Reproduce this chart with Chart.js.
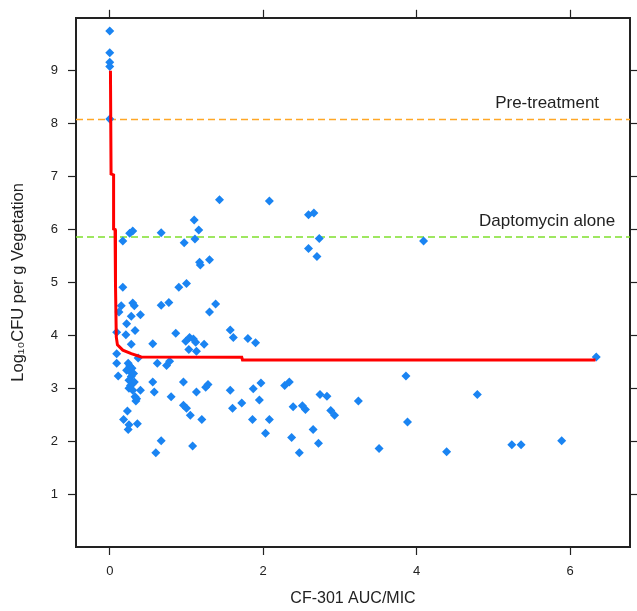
<!DOCTYPE html>
<html>
<head>
<meta charset="utf-8">
<script src="https://cdn.jsdelivr.net/npm/chart.js@4.4.1/dist/chart.umd.min.js"></script>
<style>
  body { margin: 0; background: #fff; }
</style>
</head>
<body>
<canvas id="cfuChart" width="637" height="611"></canvas>
<script>
// observed vegetation counts (x = CF-301 AUC/MIC, y = log10 CFU)
const aucMic = [
    0.0, 0.0, 0.0, 0.0, 0.0,
    1.43, 2.08, 2.59, 2.66, 2.73, 2.59, 2.70, 4.09,
    0.17, 0.26, 0.30, 0.67, 0.97, 1.10, 1.16, 1.11,
    1.17, 1.18, 1.30,
    0.17, 0.90, 1.00,
    0.15, 0.12, 0.30, 0.32, 0.28, 0.40, 0.22, 0.33, 0.09, 0.21,
    0.67, 0.77, 1.30, 1.38, 1.57, 1.61, 1.80, 1.90,
    0.86, 0.56, 0.28,
    0.99, 1.04, 1.09, 1.12, 1.03, 1.13, 1.23,
    0.09, 0.09, 0.11, 0.37, 0.24, 0.26, 0.22, 0.27, 0.28, 0.25, 0.30, 0.32, 0.25, 0.30, 0.33, 0.35, 0.34, 0.40, 0.29, 0.31, 0.27,
    0.62, 0.74, 0.78, 0.56, 0.58, 0.80, 0.96, 1.13, 0.96, 1.00, 1.05, 1.08, 1.20, 1.25, 1.28,
    0.23, 0.18, 0.25, 0.24, 0.36, 0.67, 0.60,
    1.57, 1.60, 1.72, 1.87, 1.97, 1.95, 1.86, 2.08, 2.03, 2.28, 2.34, 2.39, 2.37, 2.47, 2.51, 2.55,
    2.65, 2.72, 2.74, 2.83, 2.88, 2.93, 3.24, 3.86, 3.88, 3.51, 4.39, 4.79, 5.24, 5.36, 5.89, 6.34
];
const logCfu = [
    9.75, 9.34, 9.16, 9.08, 8.09,
    6.56, 6.54, 6.28, 6.31, 5.83, 5.64, 5.49, 5.78,
    5.78, 5.93, 5.97, 5.94, 5.75, 6.18, 5.99, 5.82,
    5.38, 5.33, 5.43,
    4.91, 4.91, 4.98,
    4.56, 4.44, 4.61, 4.56, 4.36, 4.39, 4.22, 4.09, 4.06, 4.01,
    4.57, 4.62, 4.44, 4.59, 4.10, 3.96, 3.94, 3.86,
    4.04, 3.84, 3.83,
    3.89, 3.96, 3.93, 3.87, 3.73, 3.70, 3.83,
    3.65, 3.47, 3.23, 3.57, 3.47, 3.42, 3.34, 3.30, 3.22, 3.15, 3.09, 3.12, 3.00, 2.96, 2.84, 2.80, 2.76, 2.96, 3.38, 3.28, 3.05,
    3.47, 3.43, 3.51, 3.12, 2.93, 2.84, 3.12, 2.93, 2.68, 2.62, 2.49, 1.91, 2.41, 3.02, 3.07,
    2.57, 2.41, 2.31, 2.22, 2.33, 2.01, 1.78,
    2.96, 2.62, 2.72, 2.99, 3.10, 2.78, 2.41, 2.41, 2.15, 3.05, 3.12, 2.65, 2.07, 1.78, 2.67, 2.60,
    2.22, 1.96, 2.88, 2.85, 2.58, 2.49, 2.76, 3.23, 2.36, 1.86, 1.80, 2.88, 1.93, 1.93, 2.01, 3.59
];

// fitted exposure-response curve
const fitAuc = [0.009, 0.017, 0.05, 0.05, 0.069, 0.069, 0.08, 0.085, 0.1, 0.17, 0.28, 0.41, 1.72, 1.73, 6.33];
const fitCfu = [9.0, 7.05, 7.03, 6.01, 6.0, 5.0, 4.98, 3.97, 3.82, 3.72, 3.655, 3.59, 3.585, 3.535, 3.535];

// reference levels
const refLevels = [8.08, 5.86];
const refLabels = ['Pre-treatment', 'Daptomycin alone'];
const refColors = ['#ffa726', '#7fe02c'];

const xTicks = [0, 2, 4, 6];
const yTicks = [1, 2, 3, 4, 5, 6, 7, 8, 9];

const refLinesPlugin = {
    id: 'refLines',
    beforeDatasetsDraw(chart) {
        const c = chart.ctx;
        const area = chart.chartArea;
        const y = chart.scales.y;
        const x = chart.scales.x;
        c.save();
        for (let i = 0; i < refLevels.length; i++) {
            const py = y.getPixelForValue(refLevels[i]);
            c.strokeStyle = refColors[i];
            c.lineWidth = 1.5;
            c.setLineDash([7, 4]);
            c.beginPath();
            c.moveTo(area.left, py);
            c.lineTo(area.right, py);
            c.stroke();
            c.setLineDash([]);
            c.fillStyle = '#222';
            c.font = '17px "Liberation Sans", Arial, sans-serif';
            c.textAlign = 'center';
            c.textBaseline = 'alphabetic';
            c.fillText(refLabels[i], x.getPixelForValue(5.7), py - 11);
        }
        c.restore();
    }
};

function frameTicks(list) {
    return function (scale) {
        scale.ticks = list.map(v => ({value: v}));
    };
}

const axisFont = {family: '"Liberation Sans", Arial, sans-serif', size: 13};
const frame = {display: true, color: '#222', width: 2};
const tickMarks = {drawOnChartArea: false, drawTicks: true, tickLength: 8, tickColor: '#222', tickWidth: 1.2};

const ctx = document.getElementById('cfuChart');
// eslint-disable-next-line no-unused-vars
const myChart = new Chart(ctx, {
    type: 'scatter',
    data: {
        datasets: [{
            type: 'line',
            data: fitAuc.map((v, i) => ({x: v, y: fitCfu[i]})),
            borderColor: '#ff0000',
            borderWidth: 3,
            pointRadius: 0,
            tension: 0,
            fill: false
        }, {
            data: aucMic.map((v, i) => ({x: v, y: logCfu[i]})),
            pointStyle: 'rectRot',
            pointRadius: 4.5,
            backgroundColor: '#1a84f2',
            borderWidth: 0
        }]
    },
    options: {
        responsive: false,
        animation: false,
        events: [],
        layout: {padding: 0},
        plugins: {
            legend: {display: false},
            tooltip: {enabled: false}
        },
        scales: {
            x: {
                type: 'linear',
                position: 'bottom',
                min: -0.44,
                max: 6.78,
                afterBuildTicks: frameTicks(xTicks),
                afterFit(scale) { scale.height = 64; },
                border: frame,
                grid: tickMarks,
                ticks: {color: '#222', font: axisFont, padding: 9, maxRotation: 0},
                title: {
                    display: true,
                    text: 'CF-301 AUC/MIC',
                    color: '#222',
                    font: {family: '"Liberation Sans", Arial, sans-serif', size: 16},
                    padding: {top: 0, bottom: 3}
                }
            },
            xTop: {
                type: 'linear',
                position: 'top',
                min: -0.44,
                max: 6.78,
                afterBuildTicks: frameTicks(xTicks),
                afterFit(scale) { scale.height = 16; },
                border: frame,
                grid: tickMarks,
                ticks: {display: false}
            },
            y: {
                type: 'linear',
                position: 'left',
                min: 0,
                max: 10,
                afterBuildTicks: frameTicks(yTicks),
                afterFit(scale) { scale.width = 76; },
                border: frame,
                grid: tickMarks,
                ticks: {color: '#222', font: axisFont, padding: 10},
                title: {
                    display: true,
                    text: 'Log₁₀CFU per g Vegetation',
                    color: '#222',
                    font: {family: '"Liberation Sans", Arial, sans-serif', size: 16.5},
                    padding: {top: 9, bottom: 0}
                }
            },
            y2: {
                type: 'linear',
                position: 'right',
                min: 0,
                max: 10,
                afterBuildTicks: frameTicks(yTicks),
                afterFit(scale) { scale.width = 7; },
                border: frame,
                grid: tickMarks,
                ticks: {display: false}
            }
        }
    },
    plugins: [refLinesPlugin]
});
</script>
</body>
</html>
